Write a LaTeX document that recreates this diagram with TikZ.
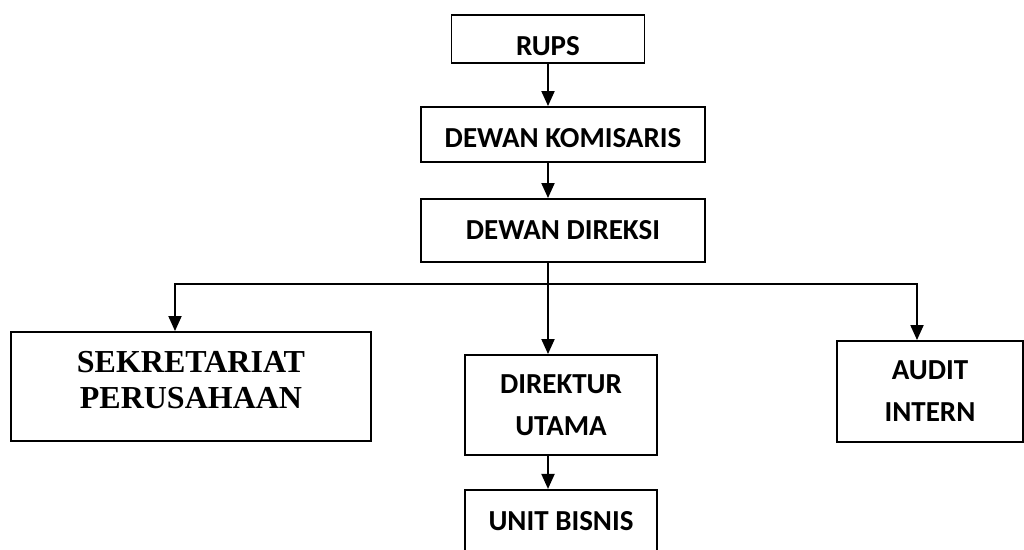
\documentclass[tikz,border=0pt]{standalone}
\usepackage{fontspec}
\setmainfont{Carlito}
\newfontfamily\timesfont{Liberation Serif}
\usetikzlibrary{arrows.meta,positioning}

\begin{document}
\begin{tikzpicture}[
  x=1pt,y=-1pt,
  every node/.style={draw,line width=1.9pt,align=center,inner sep=0pt,font=\bfseries\fontsize{29}{42}\selectfont},
  arrow/.style={draw,line width=1.9pt,-{Triangle[length=15pt,width=13pt]}}
]
  \useasboundingbox (0,0) rectangle (1024,549);
  \clip (0,0) rectangle (1024,549);
  \node (rups) [minimum width=193pt,minimum height=48pt,text height=32pt,text depth=0pt] at (548,39) {RUPS};
  \node (komisaris) [minimum width=284pt,minimum height=55pt,text height=26pt,text depth=0pt] at (563,134.5) {DEWAN KOMISARIS};
  \node (direksi) [minimum width=284pt,minimum height=63pt] at (563,230.5) {DEWAN DIREKSI};
  \node (sekretariat) [minimum width=360pt,minimum height=109pt,text height=43pt,text depth=0pt,
    font=\timesfont\bfseries\fontsize{32}{36}\selectfont] at (191,386.5) {SEKRETARIAT\\PERUSAHAAN};
  \node (direktur) [minimum width=192pt,minimum height=100pt] at (561,405) {DIREKTUR\\UTAMA};
  \node (audit) [minimum width=186pt,minimum height=101pt] at (930,391.5) {AUDIT\\INTERN};
  \node (unit) [below=33pt of direktur,minimum width=192pt,minimum height=63pt] {UNIT BISNIS};
  \coordinate (branch) at ([yshift=-21pt]direksi.south -| rups);
  \path[arrow] (rups) -- (rups |- komisaris.north);
  \path[arrow] (komisaris.south -| rups) -- (direksi.north -| rups);
  \path[arrow] (direksi.south -| rups) -- (direktur.north -| rups);
  \path[arrow] (branch) -| ([xshift=-16pt]sekretariat.north);
  \path[arrow] (branch) -| ([xshift=-13pt]audit.north);
  \path[arrow] (direktur.south -| rups) -- (unit.north -| rups);
\end{tikzpicture}
\end{document}
